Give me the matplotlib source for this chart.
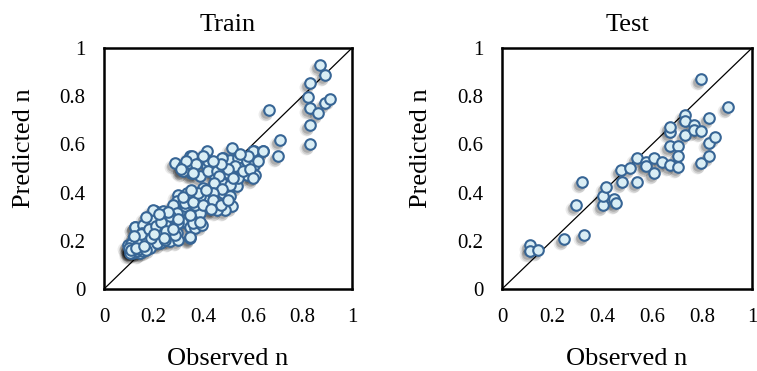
import matplotlib

matplotlib.use("Agg")
import matplotlib.pyplot as plt
import matplotlib.transforms as mtransforms

# values
train_obs = [
    0.871, 0.890, 0.831, 0.824, 0.831, 0.864, 0.891, 0.911, 0.831, 0.831,
    0.667, 0.710, 0.703, 0.640, 0.606, 0.602,
    0.286, 0.320, 0.347, 0.353, 0.349, 0.387, 0.417, 0.417, 0.414, 0.448,
    0.481, 0.515, 0.508, 0.541, 0.548, 0.575, 0.575, 0.602, 0.606, 0.609,
    0.641, 0.481, 0.448, 0.476, 0.448, 0.481, 0.521, 0.535, 0.508, 0.495,
    0.515, 0.488, 0.454, 0.427, 0.414, 0.387, 0.360, 0.333, 0.300, 0.293,
    0.320, 0.347, 0.374, 0.387, 0.340, 0.306, 0.273, 0.246, 0.206, 0.199,
    0.246, 0.280, 0.313, 0.347, 0.366, 0.394, 0.347, 0.293, 0.266, 0.233,
    0.199, 0.165, 0.125, 0.132, 0.118, 0.159, 0.192, 0.226, 0.266, 0.300,
    0.105, 0.132, 0.159, 0.185, 0.098, 0.118, 0.145, 0.212,
    0.354, 0.320, 0.421, 0.421, 0.475, 0.455, 0.501, 0.541, 0.462, 0.442,
    0.508, 0.475, 0.441, 0.400, 0.367, 0.326, 0.280, 0.239, 0.293, 0.266,
    0.360, 0.132, 0.159, 0.112, 0.125, 0.125, 0.159, 0.152, 0.192, 0.199,
    0.226, 0.246, 0.212, 0.246, 0.286, 0.266, 0.300, 0.347, 0.347, 0.387,
    0.326, 0.112, 0.120, 0.140, 0.105, 0.150, 0.128, 0.110, 0.170, 0.138,
    0.530, 0.560, 0.590, 0.620, 0.580, 0.550, 0.500, 0.470, 0.440, 0.400,
    0.370, 0.330, 0.310, 0.360, 0.600, 0.520,
    0.320, 0.360, 0.400, 0.440, 0.470, 0.500, 0.430, 0.380, 0.410, 0.350,
    0.140, 0.170, 0.150, 0.180, 0.210, 0.230, 0.250, 0.280, 0.300, 0.260,
    0.220, 0.170, 0.120, 0.100, 0.110, 0.130, 0.160, 0.190, 0.240, 0.200,
]
train_pred = [
    0.929, 0.888, 0.853, 0.797, 0.749, 0.732, 0.773, 0.787, 0.679, 0.603,
    0.743, 0.618, 0.551, 0.572, 0.572, 0.537,
    0.524, 0.510, 0.551, 0.510, 0.482, 0.468, 0.572, 0.537, 0.510, 0.503,
    0.544, 0.586, 0.537, 0.544, 0.503, 0.530, 0.473, 0.572, 0.516, 0.474,
    0.572, 0.482, 0.468, 0.440, 0.426, 0.399, 0.454, 0.426, 0.385, 0.357,
    0.343, 0.329, 0.329, 0.336, 0.371, 0.385, 0.392, 0.399, 0.392, 0.364,
    0.357, 0.343, 0.350, 0.315, 0.301, 0.322, 0.315, 0.301, 0.322, 0.287,
    0.266, 0.273, 0.280, 0.259, 0.252, 0.266, 0.211, 0.231, 0.211, 0.224,
    0.238, 0.238, 0.259, 0.224, 0.204, 0.198, 0.190, 0.190, 0.198, 0.204,
    0.163, 0.157, 0.170, 0.170, 0.184, 0.149, 0.149, 0.204,
    0.551, 0.489, 0.530, 0.489, 0.544, 0.489, 0.482, 0.461, 0.468, 0.440,
    0.433, 0.413, 0.399, 0.419, 0.350, 0.343, 0.350, 0.322, 0.315, 0.294,
    0.273, 0.156, 0.156, 0.170, 0.198, 0.259, 0.266, 0.231, 0.224, 0.329,
    0.308, 0.273, 0.190, 0.204, 0.224, 0.301, 0.273, 0.217, 0.308, 0.280,
    0.357, 0.160, 0.175, 0.165, 0.150, 0.180, 0.190, 0.185, 0.160, 0.210,
    0.510, 0.490, 0.500, 0.530, 0.550, 0.560, 0.500, 0.520, 0.530, 0.550,
    0.520, 0.530, 0.500, 0.480, 0.460, 0.460,
    0.380, 0.360, 0.350, 0.370, 0.350, 0.370, 0.330, 0.400, 0.410, 0.410,
    0.200, 0.210, 0.230, 0.250, 0.260, 0.280, 0.240, 0.250, 0.290, 0.320,
    0.310, 0.300, 0.220, 0.170, 0.160, 0.170, 0.180, 0.210, 0.210, 0.230,
]

test_obs = [
    0.112, 0.112, 0.145, 0.249, 0.329, 0.296, 0.319, 0.403, 0.403, 0.414,
    0.448, 0.457, 0.477, 0.480, 0.511, 0.540, 0.540, 0.574, 0.574, 0.608,
    0.608, 0.638, 0.672, 0.672, 0.672, 0.672, 0.702, 0.702, 0.702, 0.733,
    0.733, 0.733, 0.766, 0.766, 0.797, 0.797, 0.797, 0.827, 0.829, 0.829,
    0.905, 0.852,
]
test_pred = [
    0.182, 0.157, 0.160, 0.206, 0.222, 0.349, 0.444, 0.349, 0.386, 0.424,
    0.375, 0.358, 0.493, 0.444, 0.501, 0.444, 0.542, 0.525, 0.511, 0.483,
    0.542, 0.528, 0.514, 0.594, 0.653, 0.671, 0.594, 0.553, 0.507, 0.722,
    0.696, 0.639, 0.681, 0.660, 0.871, 0.657, 0.521, 0.710, 0.604, 0.553,
    0.757, 0.631,
]

ticks = [0, 0.2, 0.4, 0.6, 0.8, 1]
tick_labels = ["0", "0.2", "0.4", "0.6", "0.8", "1"]

plt.rcParams["font.family"] = ["Liberation Serif", "DejaVu Serif"]

fig = plt.figure(figsize=(7.57, 3.71), dpi=100)
panels = [
    ("Train", train_obs, train_pred, [104 / 757, 82 / 371, 248 / 757, 241 / 371]),
    ("Test", test_obs, test_pred, [502 / 757, 82 / 371, 250 / 757, 241 / 371]),
]

for title, obs, pred, rect in panels:
    ax = fig.add_axes(rect)
    ax.plot([0, 1], [0, 1], color="black", lw=0.9, zorder=1)

    # soft drop shadow under the markers, offset down-left like the Excel original
    for dx, dy, size, alpha in [(-4, -4, 100, 0.08), (-3, -4, 78, 0.12), (-3, -3, 58, 0.16)]:
        shadow = mtransforms.offset_copy(ax.transData, fig=fig, x=dx, y=dy, units="dots")
        ax.scatter(obs, pred, s=size, color="black", alpha=alpha, lw=0,
                   transform=shadow, zorder=2)

    ax.scatter(obs, pred, s=58, facecolor="#DAEEF5", edgecolor="#376595",
               linewidths=1.5, zorder=3)

    ax.set_xlim(0, 1)
    ax.set_ylim(0, 1)
    ax.set_xticks(ticks, tick_labels)
    ax.set_yticks(ticks, tick_labels)
    ax.tick_params(length=0, labelsize=15, pad=13.5)
    for spine in ax.spines.values():
        spine.set_linewidth(1.8)
    ax.set_title(title, fontsize=19, pad=12.5)
    ax.set_xlabel("Observed n", fontsize=19)
    ax.xaxis.set_label_coords(0.5, -0.245)
    ax.set_ylabel("Predicted n", fontsize=19)
    ax.yaxis.set_label_coords(-0.28, 0.583)

fig.savefig("out.png", dpi=100)
